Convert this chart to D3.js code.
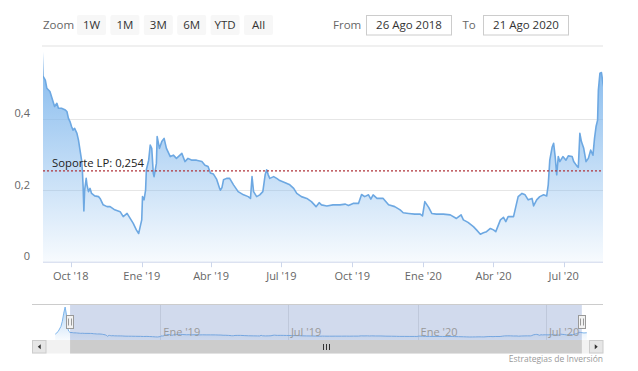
<!DOCTYPE html>
<html><head><meta charset="utf-8">
<script src="https://cdn.jsdelivr.net/npm/d3@7"></script>
<style>
body{margin:0;background:#fff;}
svg{display:block;font-family:"Open Sans",sans-serif;}
</style></head><body>
<svg id="chart" width="638" height="371"></svg>
<script>
// ---------- DATA ----------
const seriesDates = [
"2018-08-05","2018-08-09","2018-08-13","2018-08-15","2018-08-17","2018-08-19","2018-08-21","2018-08-22","2018-08-23","2018-08-24",
"2018-08-26","2018-08-29","2018-08-31","2018-09-04","2018-09-06","2018-09-08","2018-09-10","2018-09-13","2018-09-15","2018-09-19",
"2018-09-24","2018-09-26","2018-09-28","2018-09-30","2018-10-02","2018-10-04","2018-10-06","2018-10-09","2018-10-11","2018-10-13",
"2018-10-15","2018-10-16","2018-10-17","2018-10-18","2018-10-19","2018-10-21","2018-10-22","2018-10-24","2018-10-26","2018-10-28",
"2018-11-01","2018-11-06","2018-11-08","2018-11-12","2018-11-17","2018-11-21","2018-11-27","2018-12-04","2018-12-08","2018-12-13",
"2018-12-17","2018-12-21","2018-12-25","2018-12-28","2018-12-30","2019-01-01","2019-01-02","2019-01-04","2019-01-06","2019-01-07",
"2019-01-10","2019-01-12","2019-01-14","2019-01-16","2019-01-17","2019-01-20","2019-01-21","2019-01-24","2019-01-27","2019-01-30",
"2019-02-02","2019-02-07","2019-02-11","2019-02-15","2019-02-22","2019-02-26","2019-03-02","2019-03-07","2019-03-13","2019-03-20",
"2019-03-24","2019-03-28","2019-03-31","2019-04-04","2019-04-08","2019-04-12","2019-04-13","2019-04-15","2019-04-17","2019-04-21",
"2019-04-25","2019-04-30","2019-05-06","2019-05-13","2019-05-19","2019-05-22","2019-05-24","2019-05-26","2019-05-30","2019-06-03",
"2019-06-07","2019-06-10","2019-06-12","2019-06-14","2019-06-16","2019-06-21","2019-06-25","2019-06-29","2019-07-06","2019-07-12",
"2019-07-17","2019-07-21","2019-07-27","2019-08-03","2019-08-09","2019-08-15","2019-08-19","2019-08-22","2019-08-29","2019-09-06",
"2019-09-15","2019-09-22","2019-09-26","2019-10-02","2019-10-09","2019-10-13","2019-10-17","2019-10-22","2019-10-25","2019-10-28",
"2019-11-02","2019-11-10","2019-11-17","2019-11-25","2019-12-02","2019-12-06","2019-12-13","2019-12-21","2019-12-28","2019-12-31",
"2020-01-03","2020-01-08","2020-01-12","2020-01-18","2020-01-27","2020-02-05","2020-02-13","2020-02-19","2020-02-22","2020-02-28",
"2020-03-06","2020-03-10","2020-03-15","2020-03-19","2020-03-23","2020-03-28","2020-04-01","2020-04-04","2020-04-10","2020-04-14",
"2020-04-17","2020-04-20","2020-04-27","2020-04-30","2020-05-03","2020-05-08","2020-05-12","2020-05-16","2020-05-21","2020-05-23",
"2020-05-27","2020-05-31","2020-06-05","2020-06-09","2020-06-11","2020-06-13","2020-06-16","2020-06-18","2020-06-20","2020-06-22",
"2020-06-24","2020-06-26","2020-06-30","2020-07-04","2020-07-07","2020-07-12","2020-07-14","2020-07-18","2020-07-20","2020-07-22",
"2020-07-24","2020-07-27","2020-07-30","2020-08-02","2020-08-05","2020-08-08","2020-08-10","2020-08-12","2020-08-14","2020-08-15",
"2020-08-17","2020-08-19","2020-08-21","2020-08-24","2020-08-28"
];
const seriesValues = [
0.35,0.6,1.1,1.6,2.4,3.0,2.2,1.4,0.9,0.65,
0.519,0.508,0.485,0.476,0.462,0.448,0.434,0.443,0.429,0.429,
0.424,0.420,0.401,0.392,0.378,0.368,0.373,0.359,0.340,0.312,
0.284,0.257,0.210,0.142,0.200,0.233,0.215,0.196,0.205,0.191,
0.184,0.182,0.177,0.159,0.154,0.154,0.145,0.140,0.126,0.135,
0.121,0.107,0.089,0.079,0.098,0.117,0.182,0.173,0.200,0.257,
0.284,0.326,0.317,0.247,0.238,0.275,0.350,0.317,0.336,0.345,
0.317,0.294,0.298,0.289,0.303,0.280,0.289,0.284,0.284,0.280,
0.270,0.266,0.248,0.245,0.231,0.205,0.200,0.207,0.229,0.233,
0.233,0.215,0.196,0.187,0.182,0.177,0.238,0.196,0.182,0.187,
0.196,0.243,0.257,0.243,0.233,0.238,0.233,0.227,0.221,0.215,
0.205,0.191,0.182,0.177,0.168,0.154,0.165,0.159,0.156,0.159,
0.159,0.161,0.157,0.163,0.163,0.188,0.182,0.187,0.175,0.187,
0.177,0.177,0.159,0.154,0.145,0.137,0.135,0.133,0.133,0.128,
0.168,0.152,0.135,0.133,0.133,0.131,0.121,0.131,0.117,0.110,
0.098,0.089,0.077,0.081,0.084,0.093,0.089,0.084,0.117,0.124,
0.112,0.126,0.126,0.154,0.182,0.191,0.187,0.173,0.177,0.156,
0.173,0.182,0.187,0.184,0.215,0.284,0.320,0.331,0.294,0.243,
0.294,0.280,0.294,0.284,0.296,0.294,0.280,0.268,0.264,0.359,
0.336,0.317,0.280,0.289,0.312,0.298,0.345,0.378,0.396,0.480,
0.527,0.529,0.499,0.47,0.49
];
const selectedRange = ["2018-08-26", "2020-08-21"];
const navigatorRange = ["2018-07-03", "2020-09-20"];
const yTickValues = [0, 0.2, 0.4];
const yAxisMax = 0.53;
const supportValue = 0.254;
const supportLabel = "Soporte LP: 0,254";
const zoomButtons = ["1W", "1M", "3M", "6M", "YTD", "All"];
const monthsShortEs = ["Ene","Feb","Mar","Abr","May","Jun","Jul","Ago","Sep","Oct","Nov","Dic"];
const monthsEs = ["Enero","Febrero","Marzo","Abril","Mayo","Junio","Julio","Agosto","Septiembre","Octubre","Noviembre","Diciembre"];
const creditText = "Estrategias de Inversión";

// ---------- SETUP ----------
const parse = d3.timeParse("%Y-%m-%d");
const data = seriesDates.map((d, i) => ({date: parse(d), value: seriesValues[i]}));
const range = selectedRange.map(parse);
const navDom = navigatorRange.map(parse);

const loc = d3.timeFormatLocale({
  dateTime: "%x, %X", date: "%d/%m/%Y", time: "%H:%M:%S", periods: ["AM","PM"],
  days: ["domingo","lunes","martes","miércoles","jueves","viernes","sábado"],
  shortDays: ["dom","lun","mar","mié","jue","vie","sáb"],
  months: monthsEs, shortMonths: monthsShortEs
});
const tickFmt = loc.format("%b '%y");
const boxFmt = loc.format("%d %b %Y");
const numFmt = d3.formatLocale({decimal: ",", thousands: ".", grouping: [3], currency: ["", "€"]}).format(".1~f");

const svg = d3.select("#chart");
const defs = svg.append("defs");

const P = {left: 43, right: 603, top: 72.2, bottom: 261.7};
const x = d3.scaleTime().domain(range).range([P.left, P.right]);
const y = d3.scaleLinear().domain([0, yAxisMax]).range([P.bottom, P.top]);

function grad(id, y1, y2, a0, a1) {
  const g = defs.append("linearGradient").attr("id", id)
    .attr("gradientUnits", "userSpaceOnUse").attr("x1", 0).attr("x2", 0).attr("y1", y1).attr("y2", y2);
  g.append("stop").attr("offset", 0).attr("stop-color", "#7cb5ec").attr("stop-opacity", a0);
  g.append("stop").attr("offset", 1).attr("stop-color", "#7cb5ec").attr("stop-opacity", a1);
}
grad("mainGrad", P.top, P.bottom, 0.88, 0.06);

defs.append("clipPath").attr("id", "mainClip").append("rect")
  .attr("x", P.left).attr("y", 0).attr("width", P.right - P.left).attr("height", P.bottom + 0.5);

// ---------- RANGE SELECTOR ----------
const txtCol = "#333333";
svg.append("text").attr("x", 43).attr("y", 28.5).attr("font-size", 11.5).attr("fill", "#666").text("Zoom");
zoomButtons.forEach((b, i) => {
  const bx = 77 + i * 33.4;
  svg.append("rect").attr("x", bx).attr("y", 15).attr("width", 29).attr("height", 20)
    .attr("rx", 2).attr("fill", "#f7f7f7");
  svg.append("text").attr("x", bx + 14.5).attr("y", 28.5).attr("text-anchor", "middle")
    .attr("font-size", 11.5).attr("fill", txtCol).text(b);
});
svg.append("text").attr("x", 333).attr("y", 28.5).attr("font-size", 11.5).attr("fill", "#666").text("From");
svg.append("text").attr("x", 462.5).attr("y", 28.5).attr("font-size", 11.5).attr("fill", "#666").text("To");
[[366, range[0]], [483, range[1]]].forEach(([bx, d]) => {
  svg.append("rect").attr("x", bx + 0.5).attr("y", 15.5).attr("width", 85).attr("height", 19.5)
    .attr("fill", "#fff").attr("stroke", "#cccccc");
  svg.append("text").attr("x", bx + 43).attr("y", 28.5).attr("text-anchor", "middle")
    .attr("font-size", 11.5).attr("fill", txtCol).text(boxFmt(d));
});
svg.append("line").attr("x1", 42).attr("x2", 603).attr("y1", 46).attr("y2", 46)
  .attr("stroke", "#ebebeb").attr("stroke-width", 1.5);

// ---------- MAIN PLOT ----------
svg.append("g").selectAll("line").data(yTickValues.filter(v => v > 0)).join("line")
  .attr("x1", P.left).attr("x2", P.right)
  .attr("y1", d => Math.round(y(d)) + 0.5).attr("y2", d => Math.round(y(d)) + 0.5)
  .attr("stroke", "#e6e6e6");

const gMain = svg.append("g").attr("clip-path", "url(#mainClip)");
gMain.append("path").datum(data)
  .attr("fill", "url(#mainGrad)")
  .attr("d", d3.area().x(d => x(d.date)).y0(y(0)).y1(d => y(d.value)));
gMain.append("path").datum(data)
  .attr("fill", "none").attr("stroke", "#6da8e2").attr("stroke-width", 1.6).attr("stroke-linejoin", "round")
  .attr("d", d3.line().x(d => x(d.date)).y(d => y(d.value)));

// x axis
svg.append("line").attr("x1", P.left).attr("x2", P.right).attr("y1", P.bottom + 0.5).attr("y2", P.bottom + 0.5)
  .attr("stroke", "#ccd6eb");
const xTicks = x.ticks(d3.timeMonth.every(3));
svg.append("g").selectAll("line").data(xTicks).join("line")
  .attr("x1", d => Math.round(x(d)) + 0.5).attr("x2", d => Math.round(x(d)) + 0.5)
  .attr("y1", P.bottom + 0.5).attr("y2", P.bottom + 5.5).attr("stroke", "#ccd6eb");
svg.append("g").selectAll("text").data(xTicks).join("text")
  .attr("x", d => x(d)).attr("y", 279.5).attr("text-anchor", "middle")
  .attr("font-size", 11).attr("fill", "#666").text(d => tickFmt(d));

// y labels
svg.append("g").selectAll("text").data(yTickValues).join("text")
  .attr("x", 30).attr("y", d => y(d) - 1.5).attr("text-anchor", "end")
  .attr("font-size", 11).attr("fill", "#666").text(d => numFmt(d));

// support line
svg.append("line").attr("x1", P.left).attr("x2", P.right)
  .attr("y1", y(supportValue)).attr("y2", y(supportValue))
  .attr("stroke", "#b0333a").attr("stroke-width", 1.2).attr("stroke-dasharray", "2,2");
svg.append("text").attr("x", 52).attr("y", y(supportValue) - 3.5)
  .attr("font-size", 11.3).attr("fill", "#222").text(supportLabel);

// ---------- NAVIGATOR ----------
const N = {left: 32, right: 603, top: 304, bottom: 340};
const xN = d3.scaleTime().domain(navDom).range([N.left, N.right]);
const vExt = d3.extent(seriesValues);
const pad = (vExt[1] - vExt[0]) * 0.1;
const yN = d3.scaleLinear().domain([vExt[0] - pad, vExt[1] + pad]).range([N.bottom, N.top]);
grad("navGrad", N.top, N.bottom, 0.6, 0.05);

const navTicks = xN.ticks(d3.timeMonth.every(6));
svg.append("g").selectAll("line").data(navTicks).join("line")
  .attr("x1", d => Math.round(xN(d)) + 0.5).attr("x2", d => Math.round(xN(d)) + 0.5)
  .attr("y1", N.top).attr("y2", N.bottom).attr("stroke", "#e6e6e6");

svg.append("path").datum(data).attr("fill", "url(#navGrad)")
  .attr("d", d3.area().x(d => xN(d.date)).y0(N.bottom).y1(d => yN(d.value)));
svg.append("path").datum(data).attr("fill", "none").attr("stroke", "#7cb5ec").attr("stroke-width", 1)
  .attr("d", d3.line().x(d => xN(d.date)).y(d => yN(d.value)));

const mx0 = xN(range[0]), mx1 = xN(range[1]);
svg.append("rect").attr("x", mx0).attr("y", N.top).attr("width", mx1 - mx0).attr("height", N.bottom - N.top)
  .attr("fill", "rgba(102,133,194,0.3)");

svg.append("g").selectAll("text").data(navTicks).join("text")
  .attr("x", d => xN(d) + 3).attr("y", 336).attr("font-size", 11).attr("fill", "#999")
  .text(d => tickFmt(d));

svg.append("line").attr("x1", N.left).attr("x2", N.right).attr("y1", N.top + 0.5).attr("y2", N.top + 0.5)
  .attr("stroke", "#cccccc");

[mx0, mx1].forEach(hx => {
  const g = svg.append("g").attr("transform", `translate(${Math.round(hx)},322)`);
  g.append("rect").attr("x", -3.5).attr("y", -6.5).attr("width", 7).attr("height", 13)
    .attr("fill", "#f2f2f2").attr("stroke", "#999999");
  g.append("path").attr("d", "M-1.5,-3.5V3.5M1.5,-3.5V3.5").attr("stroke", "#999999");
});

// scrollbar
const S = {top: 340, h: 13.5};
svg.append("rect").attr("x", N.left).attr("y", S.top).attr("width", N.right - N.left).attr("height", S.h)
  .attr("fill", "#f2f2f2");
svg.append("rect").attr("x", mx0).attr("y", S.top).attr("width", mx1 - mx0).attr("height", S.h)
  .attr("fill", "#cccccc");
const gc = (mx0 + mx1) / 2;
svg.append("path").attr("d", `M${Math.round(gc) - 2.5},${S.top + 4}v6M${Math.round(gc) + 0.5},${S.top + 4}v6M${Math.round(gc) + 3.5},${S.top + 4}v6`)
  .attr("stroke", "#333").attr("stroke-width", 1);
[[N.left, -1], [N.right - 14, 1]].forEach(([bx, dir]) => {
  svg.append("rect").attr("x", bx + 0.5).attr("y", S.top + 0.5).attr("width", 13.5).attr("height", S.h - 1)
    .attr("fill", "#e6e6e6").attr("stroke", "#cccccc");
  const cx = bx + 7.25, cy = S.top + S.h / 2;
  svg.append("path").attr("d", `M${cx - 1.5 * dir},${cy - 2.5}L${cx - 1.5 * dir},${cy + 2.5}L${cx + 1.5 * dir},${cy}Z`)
    .attr("fill", "#333");
});

// credits
svg.append("text").attr("x", 603).attr("y", 361.5).attr("text-anchor", "end")
  .attr("font-size", 8.5).attr("fill", "#999").text(creditText);
</script>
</body></html>
